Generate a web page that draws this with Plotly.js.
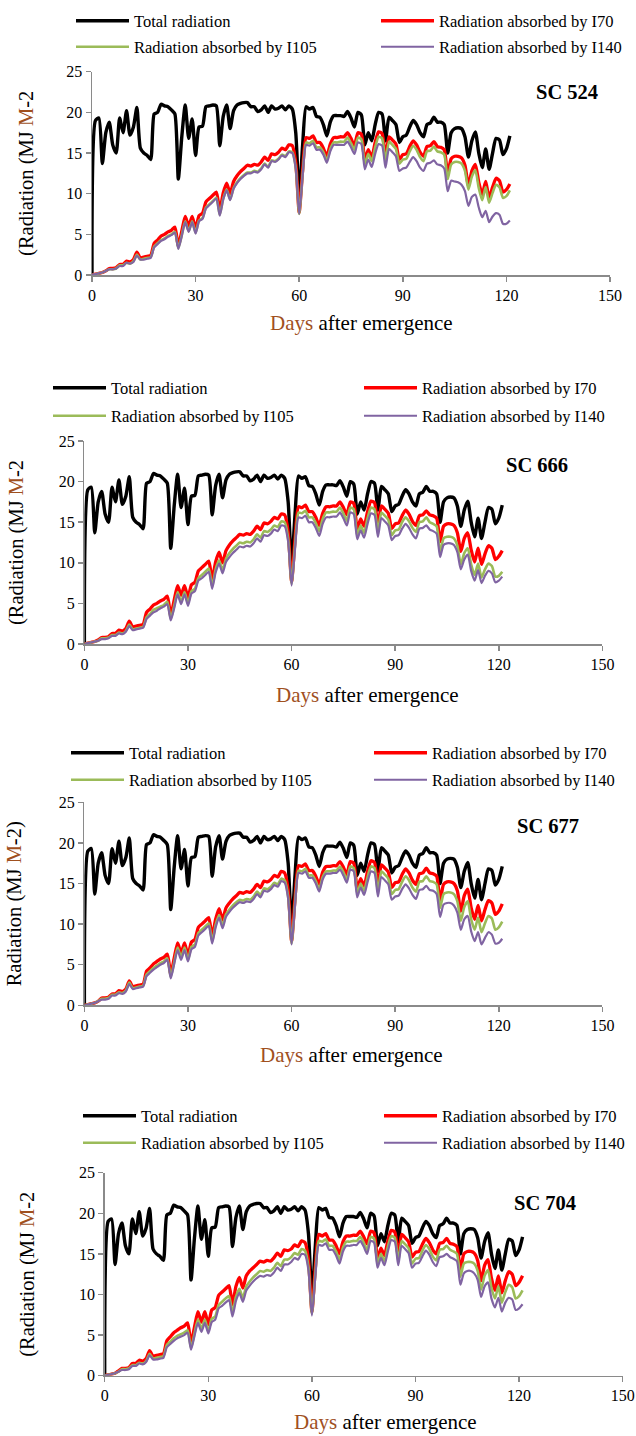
<!DOCTYPE html>
<html><head><meta charset="utf-8">
<script src="https://cdn.plot.ly/plotly-3.0.1.min.js"></script>
<style>html,body{margin:0;padding:0;background:#fff}</style>
</head><body><div id="chart" style="width:636px;height:1436px"></div>
<script>
const days = [0,1,2,3,4,5,6,7,8,9,10,11,12,13,14,15,16,17,18,19,20,21,22,23,24,25,26,27,28,29,30,31,32,33,34,35,36,37,38,39,40,41,42,43,44,45,46,47,48,49,50,51,52,53,54,55,56,57,58,59,60,61,62,63,64,65,66,67,68,69,70,71,72,73,74,75,76,77,78,79,80,81,82,83,84,85,86,87,88,89,90,91,92,93,94,95,96,97,98,99,100,101,102,103,104,105,106,107,108,109,110,111,112,113,114,115,116,117,118,119,120,121];

const totalRadiation = [0,19.0,19.3,13.7,17.5,18.8,16.0,15.0,19.3,17.5, 20.2,17.2,18.2,20.6,15.6,15.0,14.7,14.2,19.8,20.0, 21.0,20.8,20.7,20.3,19.8,11.8,17.0,20.9,16.8,19.2, 14.7,18.2,18.3,20.7,20.8,20.9,20.8,15.9,19.5,20.9, 18.0,20.2,20.9,21.1,21.2,21.2,20.7,20.7,20.1,20.3, 20.8,20.0,20.8,20.4,20.5,20.8,20.3,20.8,20.4,17.5, 9.7,16.0,20.7,20.4,20.6,19.5,19.4,18.5,17.1,18.8, 19.6,19.6,19.6,19.5,20.1,19.3,18.2,20.0,19.7,16.0, 17.5,16.5,18.5,20.0,19.8,16.5,19.4,19.0,18.5,16.3, 17.0,17.2,18.2,19.0,18.5,17.5,17.0,18.5,18.7,19.4, 18.8,18.8,18.5,15.0,17.5,18.0,18.1,18.0,17.0,14.5, 16.5,17.6,15.0,13.2,15.5,13.0,15.0,16.8,16.6,14.8, 15.5,17.1];

// SC 524
const sc524_I70 = [0,0.1,0.2,0.3,0.5,0.8,0.8,0.9,1.3,1.3, 1.7,1.6,1.9,2.8,2.1,2.2,2.3,2.4,3.9,4.3, 4.8,5.0,5.3,5.5,5.9,3.6,5.4,7.2,6.0,7.2, 5.7,7.3,7.6,9.0,9.4,9.8,10.2,8.0,10.1,11.3, 10.0,11.5,12.2,12.7,13.1,13.5,13.4,13.6,13.5,13.9, 14.5,14.1,14.9,14.8,15.1,15.6,15.4,16.0,15.9,13.8, 7.7,12.9,16.9,16.8,17.1,16.3,16.3,15.6,14.6,16.1, 16.9,16.9,17.0,17.0,17.5,16.8,15.9,17.5,17.3,14.1, 15.4,14.5,16.3,17.6,17.4,14.5,17.0,16.6,16.1,14.2, 14.8,14.9,15.8,16.5,16.0,15.1,14.6,15.8,15.9,16.4, 15.8,15.7,15.4,12.4,14.3,14.6,14.6,14.4,13.5,11.0, 12.8,13.6,11.4,9.9,11.5,9.5,10.8,11.9,11.6,10.2, 10.5,11.2];
const sc524_I105 = [0,0.1,0.2,0.3,0.5,0.7,0.7,0.8,1.2,1.2, 1.5,1.4,1.7,2.5,1.9,2.0,2.1,2.2,3.5,3.9, 4.3,4.5,4.8,5.0,5.3,3.3,4.9,6.6,5.4,6.6, 5.2,6.7,7.0,8.3,8.7,9.1,9.5,7.4,9.4,10.5, 9.3,10.7,11.4,11.9,12.3,12.6,12.6,12.8,12.7,13.1, 13.7,13.3,14.1,14.0,14.3,14.8,14.6,15.2,15.1,13.2, 7.5,12.4,16.3,16.2,16.5,15.7,15.7,15.1,14.1,15.5, 16.3,16.3,16.4,16.4,16.9,16.2,15.4,16.9,16.7,13.6, 14.9,14.0,15.7,17.0,16.8,14.0,16.4,16.0,15.5,13.7, 14.2,14.3,15.2,15.9,15.4,14.5,14.0,15.2,15.3,15.8, 15.2,15.1,14.8,11.8,13.6,13.9,13.9,13.7,12.8,10.5, 12.1,12.9,10.7,9.2,10.8,8.9,10.1,11.1,10.8,9.5, 9.7,10.4];
const sc524_I140 = [0,0.1,0.2,0.3,0.5,0.7,0.7,0.8,1.1,1.1, 1.5,1.4,1.6,2.4,1.9,1.9,2.0,2.1,3.4,3.8, 4.2,4.4,4.7,4.9,5.2,3.2,4.8,6.5,5.3,6.5, 5.1,6.6,6.9,8.2,8.6,9.0,9.4,7.3,9.3,10.4, 9.2,10.6,11.3,11.8,12.2,12.5,12.5,12.7,12.6,13.0, 13.6,13.2,14.0,13.9,14.2,14.7,14.5,15.1,15.0,13.1, 7.5,12.2,16.0,15.9,16.2,15.4,15.4,14.8,13.8,15.2, 16.0,16.0,16.0,16.0,16.4,15.7,14.9,16.3,16.1,13.0, 14.2,13.3,14.9,16.1,15.9,13.2,15.5,15.1,14.6,12.8, 13.1,13.2,13.9,14.5,14.0,13.2,12.8,13.7,13.8,14.1, 13.6,13.5,13.1,10.3,11.6,11.5,11.4,11.1,10.3,8.5, 9.6,9.9,8.3,7.1,7.9,6.5,7.2,7.6,7.4,6.3, 6.3,6.7];

// SC 666
const sc666_I70 = [0,0.1,0.2,0.3,0.5,0.8,0.8,0.9,1.3,1.3, 1.7,1.6,1.9,2.8,2.1,2.2,2.3,2.4,3.9,4.3, 4.8,5.0,5.3,5.5,5.9,3.6,5.4,7.2,6.0,7.2, 5.7,7.3,7.6,9.0,9.4,9.8,10.2,8.0,10.1,11.3, 10.0,11.5,12.2,12.7,13.1,13.5,13.4,13.6,13.5,13.9, 14.5,14.1,14.9,14.8,15.1,15.6,15.4,16.0,15.9,13.8, 7.7,12.9,16.9,16.8,17.1,16.3,16.3,15.6,14.6,16.1, 16.9,16.9,17.0,17.0,17.5,16.8,15.9,17.5,17.3,14.1, 15.4,14.5,16.3,17.6,17.4,14.5,17.0,16.6,16.1,14.2, 14.8,14.9,15.8,16.5,16.0,15.1,14.6,15.8,15.9,16.4, 15.9,15.8,15.5,12.6,14.5,14.8,14.8,14.6,13.7,11.4, 13.0,13.7,11.6,10.1,11.8,9.8,11.1,12.1,11.8,10.4, 10.8,11.5];
const sc666_I105 = [0,0.1,0.2,0.3,0.4,0.7,0.7,0.8,1.1,1.1, 1.4,1.3,1.6,2.4,1.8,1.9,2.0,2.1,3.3,3.7, 4.2,4.4,4.6,4.8,5.2,3.1,4.7,6.4,5.2,6.4, 5.0,6.5,6.8,8.1,8.5,8.9,9.3,7.1,9.2,10.3, 9.1,10.5,11.2,11.7,12.1,12.5,12.4,12.6,12.5,12.9, 13.5,13.1,13.9,13.8,14.1,14.6,14.4,15.1,15.0,13.0, 7.4,12.2,16.2,16.1,16.4,15.6,15.6,14.9,13.9,15.4, 16.2,16.2,16.3,16.3,16.8,16.1,15.2,16.8,16.6,13.4, 14.6,13.7,15.5,16.8,16.6,13.8,16.2,15.8,15.3,13.4, 14.0,14.1,15.0,15.6,15.1,14.3,13.8,15.0,15.1,15.6, 15.0,14.8,14.5,11.3,13.0,13.2,13.2,13.0,12.1,9.8, 11.2,11.8,9.8,8.5,9.9,8.2,9.2,9.9,9.6,8.3, 8.4,8.9];
const sc666_I140 = [0,0.1,0.2,0.3,0.4,0.6,0.6,0.7,1.0,1.0, 1.3,1.2,1.5,2.2,1.7,1.8,1.9,2.0,3.1,3.5, 3.9,4.1,4.4,4.6,4.9,2.9,4.4,6.1,4.9,6.1, 4.7,6.2,6.5,7.8,8.1,8.5,8.9,6.8,8.8,9.9, 8.7,10.1,10.7,11.2,11.6,12.0,11.9,12.1,12.0,12.4, 13.0,12.6,13.4,13.3,13.6,14.1,13.9,14.6,14.5,12.6, 7.2,11.7,15.6,15.5,15.8,15.0,15.0,14.3,13.3,14.8, 15.6,15.6,15.7,15.7,16.2,15.5,14.6,16.2,16.0,12.9, 14.0,13.1,14.8,16.1,15.9,13.2,15.5,15.1,14.6,12.8, 13.3,13.4,14.2,14.8,14.3,13.5,13.0,14.2,14.3,14.6, 14.1,13.9,13.6,10.7,12.2,12.4,12.4,12.2,11.3,9.2, 10.4,11.0,9.0,7.8,9.1,7.5,8.4,9.0,8.7,7.6, 7.8,8.3];

// SC 677
const sc677_I70 = [0,0.1,0.2,0.3,0.5,0.9,0.9,1.0,1.4,1.4, 1.8,1.7,2.0,3.0,2.3,2.4,2.5,2.6,4.2,4.6, 5.1,5.4,5.7,5.9,6.3,3.9,5.8,7.7,6.4,7.7, 6.1,7.8,8.1,9.6,10.0,10.4,10.8,8.5,10.6,11.9, 10.5,12.0,12.6,13.1,13.5,13.9,13.8,14.0,13.9,14.3, 14.9,14.5,15.3,15.2,15.5,16.0,15.8,16.5,16.3,14.2, 7.9,13.2,17.2,17.1,17.4,16.6,16.6,15.9,14.9,16.4, 17.1,17.1,17.2,17.2,17.7,17.0,16.1,17.7,17.5,14.3, 15.6,14.7,16.5,17.8,17.6,14.7,17.3,16.9,16.4,14.5, 15.1,15.2,16.1,16.8,16.3,15.4,14.9,16.2,16.3,16.9, 16.3,16.2,15.9,12.9,14.9,15.2,15.2,15.0,14.1,11.6, 13.5,14.3,12.0,10.6,12.3,10.4,11.8,12.9,12.6,11.2, 11.6,12.5];
const sc677_I105 = [0,0.1,0.2,0.3,0.5,0.8,0.8,0.9,1.3,1.3, 1.6,1.5,1.8,2.8,2.1,2.2,2.3,2.4,3.8,4.2, 4.6,4.9,5.2,5.4,5.8,3.5,5.3,7.1,5.9,7.1, 5.6,7.2,7.5,8.9,9.3,9.7,10.1,7.9,9.9,11.1, 9.8,11.2,11.8,12.3,12.7,13.0,12.9,13.1,13.0,13.4, 14.0,13.6,14.4,14.3,14.6,15.1,14.9,15.6,15.4,13.4, 7.6,12.6,16.6,16.5,16.8,16.0,16.0,15.3,14.3,15.8, 16.5,16.5,16.6,16.6,17.1,16.4,15.5,17.1,16.9,13.8, 15.0,14.1,15.8,17.1,16.9,14.0,16.5,16.1,15.6,13.7, 14.2,14.3,15.2,15.9,15.4,14.5,14.0,15.2,15.3,15.9, 15.3,15.2,14.9,12.0,13.7,13.9,13.9,13.7,12.8,10.4, 12.1,12.8,10.6,9.3,10.8,9.0,10.1,11.0,10.7,9.3, 9.6,10.3];
const sc677_I140 = [0,0.1,0.2,0.3,0.5,0.7,0.7,0.8,1.2,1.2, 1.5,1.4,1.7,2.6,2.0,2.1,2.2,2.3,3.6,4.0, 4.4,4.7,5.0,5.2,5.6,3.3,5.1,6.8,5.6,6.8, 5.4,6.9,7.2,8.6,9.0,9.4,9.8,7.6,9.6,10.8, 9.5,10.9,11.5,12.0,12.4,12.7,12.6,12.8,12.7,13.1, 13.7,13.3,14.1,14.0,14.3,14.8,14.6,15.3,15.1,13.1, 7.5,12.3,16.3,16.2,16.5,15.7,15.7,15.0,14.0,15.5, 16.2,16.2,16.3,16.3,16.7,16.0,15.1,16.7,16.5,13.3, 14.5,13.6,15.2,16.5,16.3,13.4,15.8,15.4,14.9,13.0, 13.4,13.5,14.3,14.9,14.4,13.6,13.1,14.2,14.3,14.7, 14.2,14.1,13.7,10.9,12.4,12.6,12.6,12.3,11.4,9.3, 10.6,11.0,9.1,7.9,9.0,7.5,8.3,9.0,8.7,7.6, 7.7,8.2];

// SC 704
const sc704_I70 = [0,0.1,0.2,0.3,0.6,0.9,0.9,1.0,1.5,1.5, 1.9,1.8,2.1,3.1,2.4,2.5,2.6,2.7,4.3,4.8, 5.3,5.6,5.9,6.1,6.5,4.0,6.0,7.9,6.6,7.9, 6.3,8.1,8.4,9.9,10.3,10.7,11.1,8.8,11.0,12.1, 10.8,12.3,12.9,13.3,13.7,14.1,14.0,14.2,14.1,14.5, 15.1,14.7,15.5,15.4,15.6,16.1,15.9,16.6,16.4,14.3, 7.9,13.3,17.4,17.2,17.5,16.7,16.7,16.0,15.0,16.5, 17.2,17.2,17.3,17.3,17.8,17.1,16.2,17.8,17.6,14.4, 15.7,14.8,16.6,17.9,17.7,14.8,17.4,17.0,16.5,14.6, 15.2,15.3,16.2,16.9,16.4,15.5,15.0,16.3,16.4,16.9, 16.3,16.2,15.9,13.0,15.0,15.3,15.3,15.1,14.2,11.7, 13.6,14.3,12.0,10.5,12.3,10.2,11.7,12.8,12.5,11.1, 11.5,12.3];
const sc704_I105 = [0,0.1,0.2,0.3,0.5,0.8,0.8,0.9,1.3,1.3, 1.6,1.5,1.8,2.7,2.1,2.2,2.3,2.4,3.8,4.2, 4.6,4.9,5.1,5.3,5.6,3.4,5.2,6.9,5.8,6.9, 5.5,7.0,7.3,8.7,9.1,9.5,9.8,7.8,9.7,10.7, 9.6,11.0,11.6,12.1,12.5,12.9,12.8,13.0,12.9,13.3, 13.9,13.5,14.3,14.3,14.6,15.1,14.9,15.6,15.4,13.4, 7.6,12.6,16.6,16.5,16.8,16.0,16.0,15.3,14.3,15.8, 16.5,16.5,16.6,16.6,17.1,16.4,15.5,17.1,16.9,13.8, 15.0,14.1,15.9,17.2,17.0,14.1,16.6,16.2,15.7,13.8, 14.4,14.5,15.4,16.1,15.6,14.7,14.2,15.5,15.6,16.0, 15.5,15.3,15.0,12.2,13.8,14.0,14.0,13.8,12.9,10.6, 12.3,13.0,10.8,9.5,11.0,9.0,10.3,11.2,10.9,9.5, 9.8,10.5];
const sc704_I140 = [0,0.1,0.2,0.3,0.5,0.7,0.7,0.8,1.2,1.2, 1.5,1.4,1.7,2.5,2.0,2.0,2.1,2.2,3.5,3.9, 4.3,4.6,4.8,5.0,5.3,3.2,4.9,6.5,5.4,6.5, 5.2,6.6,6.9,8.3,8.6,9.0,9.3,7.3,9.2,10.2, 9.1,10.5,11.1,11.6,12.0,12.3,12.2,12.4,12.3,12.7, 13.3,12.9,13.7,13.7,14.0,14.5,14.3,15.0,14.9,13.0, 7.4,12.2,16.1,16.0,16.3,15.5,15.5,14.8,13.8,15.3, 16.0,16.0,16.1,16.1,16.6,15.9,15.0,16.6,16.4,13.3, 14.5,13.6,15.3,16.7,16.5,13.6,16.0,15.6,15.1,13.3, 13.8,13.9,14.7,15.4,14.9,14.0,13.5,14.6,14.7,15.0, 14.6,14.4,14.1,11.2,12.6,12.9,12.9,12.6,11.8,9.7, 11.0,11.5,9.5,8.4,9.6,7.9,9.0,9.6,9.4,8.1, 8.3,8.8];

const cultivars = ['SC 524','SC 666','SC 677','SC 704'];
const seriesNames = ['Total radiation','Radiation absorbed by I70','Radiation absorbed by I105','Radiation absorbed by I140'];
const xTickVals = [0,30,60,90,120,150];
const yTickVals = [0,5,10,15,20,25];

const absorbed = [
  [sc524_I70, sc524_I105, sc524_I140],
  [sc666_I70, sc666_I105, sc666_I140],
  [sc677_I70, sc677_I105, sc677_I140],
  [sc704_I70, sc704_I105, sc704_I140]
];

// ---- styling / placement (pixels of the 636x1436 page) ----
const W = 636, H = 1436;
const FONT = 'Liberation Serif, Times New Roman, serif';
const BROWN = '#a0501e';
const colors = ['#000000','#ff0000','#9bbb59','#8064a2'];
const widths = [3.4,3.3,2.6,2.2];
const panels = [
  {xpx:[92,610],    ypx:[71.7,275],    rows:[21,47],     textX:[134,439], label:[567,92],   xtitle:[361,323],  ytitle:'(Radiation (MJ <span style="color:'+BROWN+'">M</span>-2', ystand:27},
  {xpx:[84.4,602.4],ypx:[441,644],     rows:[388,416],   textX:[111,422], label:[537,465],  xtitle:[367,695],  ytitle:'(Radiation (MJ <span style="color:'+BROWN+'">M</span>-2', ystand:29},
  {xpx:[84.4,602.4],ypx:[802.3,1005.3],rows:[753,780],   textX:[129,432], label:[548,826],  xtitle:[351,1055], ytitle:'Radiation (MJ <span style="color:'+BROWN+'">M</span>-2)', ystand:31},
  {xpx:[104.7,622.7],ypx:[1172.7,1375.7],rows:[1116,1143],textX:[141,442],label:[545,1203], xtitle:[385,1422], ytitle:'(Radiation (MJ <span style="color:'+BROWN+'">M</span>-2', ystand:39}
];
const ITEMW = 53;

const traces = [];
const layout = {
  width: W, height: H,
  margin: {l:0, r:0, t:0, b:0, pad:0},
  paper_bgcolor: '#ffffff', plot_bgcolor: 'rgba(0,0,0,0)',
  font: {family: FONT, color: '#000'},
  showlegend: true,
  annotations: []
};

let legendCount = 0;
panels.forEach((p, i) => {
  const k = i + 1;
  const xa = 'xaxis' + (k === 1 ? '' : k), ya = 'yaxis' + (k === 1 ? '' : k);
  const xr = 'x' + (k === 1 ? '' : k), yr = 'y' + (k === 1 ? '' : k);
  layout[xa] = {
    domain: [p.xpx[0] / W, p.xpx[1] / W], anchor: yr,
    range: [0, 150], tickvals: xTickVals, ticktext: xTickVals.map(String),
    showline: true, linecolor: '#8a8a8a', linewidth: 1.5,
    ticks: 'outside', ticklen: 5, tickwidth: 1.5, tickcolor: '#8a8a8a',
    showgrid: false, zeroline: false, fixedrange: true,
    tickfont: {family: FONT, size: 16, color: '#000'}
  };
  layout[ya] = {
    domain: [1 - p.ypx[1] / H, 1 - p.ypx[0] / H], anchor: xr,
    range: [0, 25], tickvals: yTickVals, ticktext: yTickVals.map(String),
    showline: true, linecolor: '#8a8a8a', linewidth: 1.5,
    ticks: 'outside', ticklen: 5, tickwidth: 1.5, tickcolor: '#8a8a8a',
    showgrid: false, zeroline: false, fixedrange: true,
    tickfont: {family: FONT, size: 16, color: '#000'},
    title: {text: p.ytitle, font: {family: FONT, size: 20.5, color: '#000'}, standoff: p.ystand}
  };
  const ys = [totalRadiation, absorbed[i][0], absorbed[i][1], absorbed[i][2]];
  ys.forEach((yv, s) => {
    legendCount++;
    const lg = 'legend' + (legendCount === 1 ? '' : legendCount);
    const row = s < 2 ? 0 : 1, col = s % 2;
    layout[lg] = {
      x: (p.textX[col] - ITEMW - 10) / W, xanchor: 'left',
      y: 1 - p.rows[row] / H, yanchor: 'middle',
      orientation: 'h', bgcolor: 'rgba(0,0,0,0)', borderwidth: 0,
      itemwidth: ITEMW, itemclick: false, itemdoubleclick: false,
      font: {family: FONT, size: 16.5, color: '#000'}
    };
    traces.push({
      type: 'scatter', mode: 'lines', x: days, y: yv,
      name: seriesNames[s], legend: lg, xaxis: xr, yaxis: yr,
      line: {color: colors[s], width: widths[s], shape: 'spline', smoothing: 0.6},
      hoverinfo: 'skip'
    });
  });
  layout.annotations.push({
    xref: 'paper', yref: 'paper', x: p.label[0] / W, y: 1 - p.label[1] / H,
    xanchor: 'center', yanchor: 'middle', showarrow: false,
    text: '<b>' + cultivars[i] + '</b>', font: {family: FONT, size: 20.5, color: '#000'}
  });
  layout.annotations.push({
    xref: 'paper', yref: 'paper', x: p.xtitle[0] / W, y: 1 - p.xtitle[1] / H,
    xanchor: 'center', yanchor: 'middle', showarrow: false,
    text: '<span style="color:' + BROWN + '">Days</span> after emergence',
    font: {family: FONT, size: 21, color: '#000'}
  });
});

Plotly.newPlot('chart', traces, layout, {displayModeBar: false, staticPlot: true});
</script></body></html>
